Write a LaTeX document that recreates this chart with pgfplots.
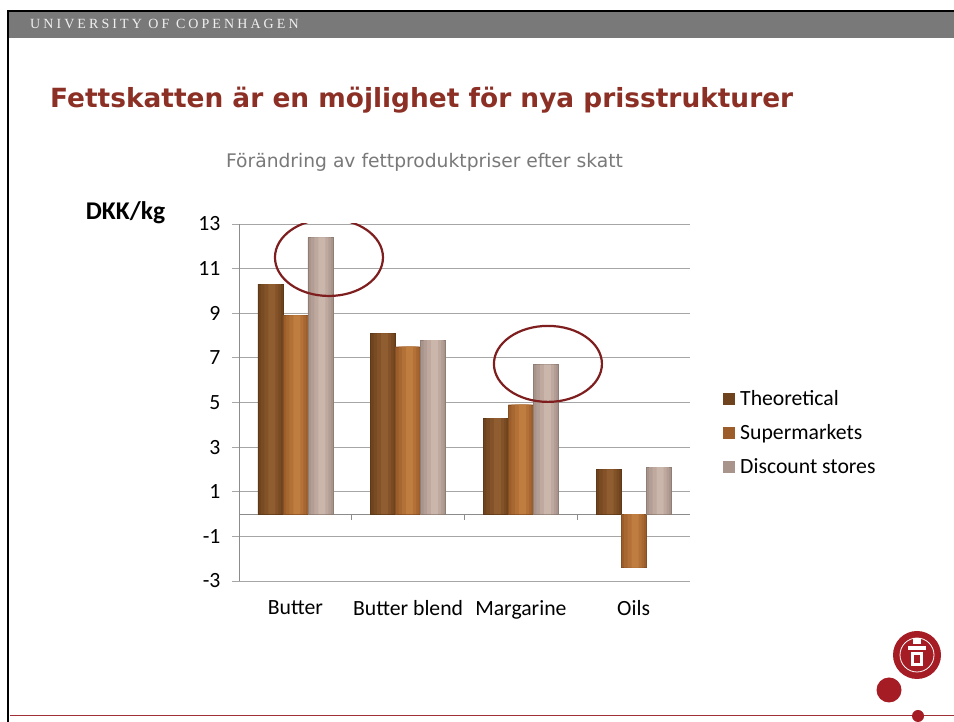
\documentclass[border=0pt]{standalone}
\usepackage{fontspec}
\setmainfont{Carlito}
\newfontfamily\verdana{DejaVu Sans}
\newfontfamily\hdrserif{Liberation Serif}[LetterSpace=22]
\usepackage{pgfplots}
\pgfplotsset{compat=1.18}

\definecolor{titlered}{HTML}{8C2F25}
\definecolor{ellred}{HTML}{7E1E1E}
\definecolor{kured}{HTML}{A51C24}
\definecolor{gridgray}{HTML}{A6A6A6}
\definecolor{axgray}{HTML}{8C8C8C}
\definecolor{thA}{HTML}{6E431E}
\definecolor{thB}{HTML}{835228}
\definecolor{thC}{HTML}{8F5D30}
\definecolor{suA}{HTML}{9C5D2A}
\definecolor{suB}{HTML}{B37138}
\definecolor{suC}{HTML}{C07D40}
\definecolor{diA}{HTML}{A8948B}
\definecolor{diB}{HTML}{BFA89E}
\definecolor{diC}{HTML}{CBB6AC}

\pgfplotstableread{
x  th   su   di
0  10.3 8.9  12.4
1  8.1  7.5  7.8
2  4.3  4.9  6.7
3  2.0  -2.4 2.1
}\prices

\begin{document}
\begin{tikzpicture}
% slide frame, 1pt = 1px, y measured from the bottom
\path[use as bounding box, fill=white] (0,0) rectangle (954pt,722pt);
\fill[gray!60!black!75] (9pt,684pt) rectangle (954pt,710pt);
\draw[black, line width=1.5pt] (7pt,711pt) -- (954pt,711pt);
\draw[black, line width=2.5pt] (8pt,0pt) -- (8pt,711pt);
\node[anchor=west, text=gray!12, inner sep=0pt] at (30pt,698pt)
  {\fontsize{14}{14}\hdrserif UNIVERSITY OF COPENHAGEN};

\node[anchor=base west, text=titlered, inner sep=0pt] at (50pt,614pt)
  {\fontsize{26.4}{28}\verdana\bfseries Fettskatten är en möjlighet för nya prisstrukturer};
\node[anchor=base, text=gray!95!black, inner sep=0pt] at (424.5pt,554pt)
  {\fontsize{18.7}{20}\verdana Förändring av fettproduktpriser efter skatt};
\node[inner sep=0pt] at (125.5pt,509pt) {\fontsize{25.5}{26}\selectfont\bfseries DKK/kg};

\begin{axis}[
  at={(239pt,141pt)}, anchor=south west,
  scale only axis, width=451pt, height=357pt,
  ybar, bar width=25pt,
  xmin=-0.5, xmax=3.5, ymin=-3, ymax=13,
  xtick={0,1,2,3},
  xticklabels={Butter, Butter blend, Margarine, Oils},
  ytick={-3,-1,...,13},
  axis y line*=left, axis x line*=bottom,
  x axis line style={draw=none},
  y axis line style={draw=axgray, line width=0.8pt},
  major x tick style={draw=none},
  major y tick style={draw=gridgray, line width=0.8pt},
  tick align=outside, major tick length=7pt,
  ymajorgrids, grid style={gridgray, line width=0.8pt},
  /pgf/number format/assume math mode=true,
  tick label style={font=\fontsize{21.7}{22}\selectfont},
  xticklabel style={yshift=-9pt},
  yticklabel style={xshift=-8pt},
  legend style={at={(1.0732,0.535)}, anchor=north west, draw=none, fill=none,
    font=\fontsize{21.7}{22}\selectfont, row sep=14pt, inner sep=0pt,
    nodes={inner sep=0pt, text height=15pt, text depth=5pt}},
  legend cell align=left,
  legend image code/.code={\path[draw=none, fill=none] (0pt,0pt) -- (17pt,0pt);
    \path[#1, draw=none] (0pt,-5pt) rectangle (12pt,7pt);},
]
  \draw[axgray, line width=0.8pt] (axis cs:-0.5,0) -- (axis cs:3.5,0);
  \pgfplotsinvokeforeach{0.5,1.5,2.5,3.5}{\draw[axgray, line width=0.8pt] (axis cs:#1,0) -- ([yshift=-6pt]axis cs:#1,0);}

  \addplot[bar shift=-25pt, draw=thA!85!black, fill=thA] table[x=x, y=th] {\prices};
  \addplot[bar shift=0pt, draw=suA!85!black, fill=suA] table[x=x, y=su] {\prices};
  \addplot[bar shift=25pt, draw=diA!85!black, fill=diA] table[x=x, y=di] {\prices};
  \legend{Theoretical, Supermarkets, Discount stores}

  % lighter inner strips for the bevelled look
  \addplot[forget plot, bar shift=-24.5pt, bar width=20pt, draw=none, fill=thA!50!thB] table[x=x, y=th] {\prices};
  \addplot[forget plot, bar shift=-24pt, bar width=14pt, draw=none, fill=thB] table[x=x, y=th] {\prices};
  \addplot[forget plot, bar shift=-23.5pt, bar width=7pt, draw=none, fill=thC] table[x=x, y=th] {\prices};
  \addplot[forget plot, bar shift=0.5pt, bar width=20pt, draw=none, fill=suA!50!suB] table[x=x, y=su] {\prices};
  \addplot[forget plot, bar shift=1pt, bar width=14pt, draw=none, fill=suB] table[x=x, y=su] {\prices};
  \addplot[forget plot, bar shift=1.5pt, bar width=7pt, draw=none, fill=suC] table[x=x, y=su] {\prices};
  \addplot[forget plot, bar shift=25.5pt, bar width=20pt, draw=none, fill=diA!50!diB] table[x=x, y=di] {\prices};
  \addplot[forget plot, bar shift=26pt, bar width=14pt, draw=none, fill=diB] table[x=x, y=di] {\prices};
  \addplot[forget plot, bar shift=26.5pt, bar width=7pt, draw=none, fill=diC] table[x=x, y=di] {\prices};

  \draw[ellred, line width=2.2pt] (axis cs:0.298,11.5) ellipse [x radius=54pt, y radius=38.5pt];
  \draw[ellred, line width=2.2pt] (axis cs:2.24,6.73) ellipse [x radius=54pt, y radius=38pt];
\end{axis}

% logo and footer
\fill[kured] (917pt,67pt) circle (24pt);
\draw[white, line width=0.8pt] (917pt,67pt) circle (17pt);
\fill[white] (911pt,56pt) rectangle (923pt,70pt);
\fill[white] (908pt,72pt) rectangle (926pt,76pt);
\fill[white] (913pt,78pt) rectangle (921pt,84pt);
\fill[kured] (914pt,59pt) rectangle (920pt,67pt);
\fill[kured] (889pt,32pt) circle (12.5pt);
\draw[kured!80!gray, line width=1pt] (10pt,6pt) -- (954pt,6pt);
\fill[kured] (918pt,6pt) circle (6pt);
\end{tikzpicture}
\end{document}
